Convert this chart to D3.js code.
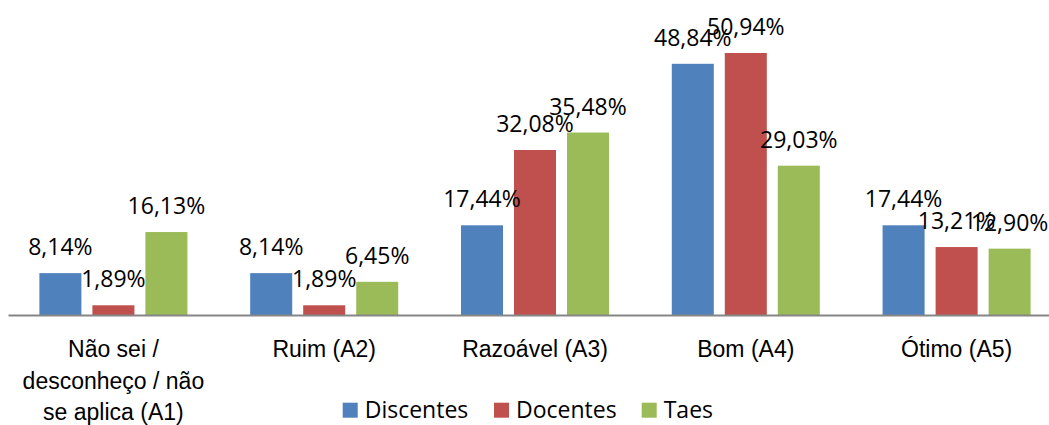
<!DOCTYPE html>
<html>
<head>
<meta charset="utf-8">
<script src="https://cdn.jsdelivr.net/npm/d3@7"></script>
<style>
  body { margin: 0; background: #fff; }
  svg { display: block; font-family: "Open Sans", sans-serif; }
</style>
</head>
<body>
<svg id="chart"></svg>
<script>
// categories, split into the lines shown under the axis
const categories = ["A1", "A2", "A3", "A4", "A5"];
const categoryLines = [
  ["Não sei /", "desconheço / não", "se aplica (A1)"],
  ["Ruim (A2)"],
  ["Razoável (A3)"],
  ["Bom (A4)"],
  ["Ótimo (A5)"]
];
const seriesNames = ["Discentes", "Docentes", "Taes"];
const seriesColors = ["#4F81BD", "#C0504D", "#9BBB59"];

// percentages per category
const discentes = [8.14, 8.14, 17.44, 48.84, 17.44];
const docentes = [1.89, 1.89, 32.08, 50.94, 13.21];
const taes = [16.13, 6.45, 35.48, 29.03, 12.90];

const width = 1049, height = 425;
const svg = d3.select("#chart").attr("width", width).attr("height", height);

const seriesValues = [discentes, docentes, taes];
const rows = categories.map((c, i) => ({
  cat: c,
  values: seriesNames.map((s, j) => ({ key: s, value: seriesValues[j][i], color: seriesColors[j] }))
}));

const x0 = d3.scaleBand().domain(categories).range([8, 1062]).padding(0);
const x1 = d3.scaleBand().domain(seriesNames).range([0, x0.bandwidth()])
  .paddingInner(0.2075).paddingOuter(0.592);
const y = d3.scaleLinear().domain([0, 60]).range([315, 6.4]);

const ptBR = d3.formatLocale({ decimal: ",", thousands: ".", grouping: [3], currency: ["R$", ""] });
const fmt = v => ptBR.format(".2f")(v) + "%";

// bars
const groups = svg.selectAll(".grp")
  .data(rows)
  .enter().append("g")
  .attr("class", "grp")
  .attr("transform", d => `translate(${x0(d.cat)},0)`);

groups.selectAll("rect")
  .data(d => d.values)
  .enter().append("rect")
  .attr("x", d => x1(d.key))
  .attr("y", d => y(d.value))
  .attr("width", x1.bandwidth())
  .attr("height", d => y(0) - y(d.value))
  .attr("fill", d => d.color);

// value labels
groups.selectAll("text.val")
  .data(d => d.values)
  .enter().append("text")
  .attr("class", "val")
  .attr("x", d => x1(d.key) + x1.bandwidth() / 2)
  .attr("y", d => y(d.value) - 18)
  .attr("text-anchor", "middle")
  .style("font-size", "23px")
  .attr("fill", "#000")
  .text(d => fmt(d.value));

// x axis
const xAxis = svg.append("g")
  .attr("transform", `translate(0,${y(0)})`)
  .call(d3.axisBottom(x0).tickSize(0).tickFormat(""));
xAxis.select(".domain").attr("stroke", "#868686").attr("stroke-width", 2);

xAxis.selectAll(".tick").each(function(d, i) {
  const t = d3.select(this).append("text")
    .attr("text-anchor", "middle")
    .attr("fill", "#000")
    .style("font-size", "23px");
  categoryLines[i].forEach((line, k) => {
    t.append("tspan").attr("x", 0).attr("y", 42 + k * 31.7).text(line);
  });
});

// legend
const legendX = [342.7, 494, 641.7];
const legend = svg.append("g").attr("class", "legend");
seriesNames.forEach((s, j) => {
  legend.append("rect")
    .attr("x", legendX[j]).attr("y", 402.7)
    .attr("width", 15).attr("height", 15)
    .attr("fill", seriesColors[j]);
  legend.append("text")
    .attr("x", legendX[j] + 22).attr("y", 417.7)
    .style("font-size", "23px")
    .attr("fill", "#000")
    .text(s);
});
</script>
</body>
</html>
